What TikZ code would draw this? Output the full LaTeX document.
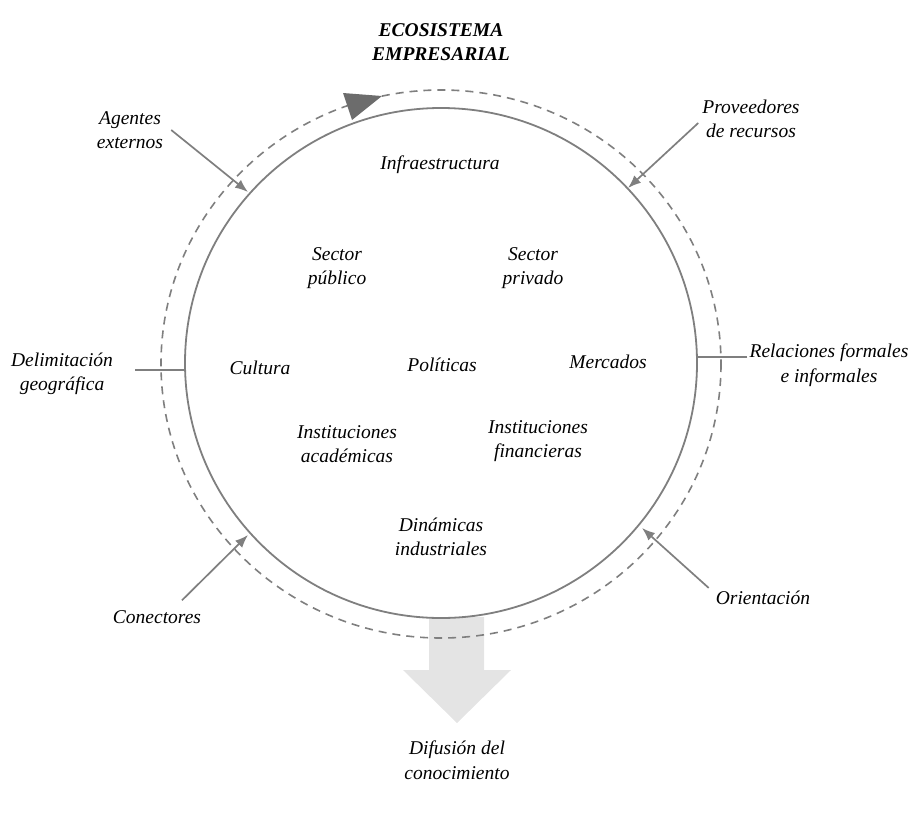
\documentclass[tikz,border=0pt]{standalone}
\usepackage{fontspec}
\setmainfont{Liberation Serif}
\usetikzlibrary{calc,arrows.meta}
\definecolor{ringgray}{HTML}{7F7F7F}
\definecolor{flowgray}{HTML}{E4E4E4}
\tikzset{lbl/.style={font=\fontsize{19.5}{24.5}\selectfont\itshape, align=center, inner sep=2pt}}
\tikzset{conn/.style={-{Latex[length=13pt,width=10pt]}, draw=ringgray, fill=ringgray, line width=1.7pt}}
\begin{document}
\begin{tikzpicture}[>=latex, x=1pt, y=-1pt]
		\useasboundingbox (0,0) rectangle (912,830);
		% flujo hacia abajo
		\fill [flowgray] (429,617) -- (484,617) -- (484,670) -- (511,670) -- (457,723) -- (403,670) -- (429,670) -- cycle;
		% anillos
		\coordinate (c) at (441,363);
		\draw [ringgray, line width=1.8pt] (c) ellipse [x radius=256, y radius=255];
		\draw [ringgray, line width=1.6pt, dash pattern=on 8pt off 6pt] (441,364) ellipse [x radius=280, y radius=274];
		\fill [ringgray!85!black] (343,93) -- (382,96) -- (352,120) -- cycle;
		% textos
		\node [lbl, font=\fontsize{19.5}{24.5}\selectfont\bfseries\itshape] (titulo) at (441,42) {ECOSISTEMA\\EMPRESARIAL};
		\node [lbl] (agentes) at (130,130) {Agentes\\externos};
		\node [lbl] (proveedores) at (751,119) {Proveedores\\de recursos};
		\node [lbl] (infra) at (440,165) {Infraestructura};
		\node [lbl] (spublico) at (337,268) {Sector\\público};
		\node [lbl] (sprivado) at (533,268) {Sector\\privado};
		\node [lbl] (cultura) at (260,368) {Cultura};
		\node [lbl] (politicas) at (442,365) {Políticas};
		\node [lbl] (mercados) at (608,362) {Mercados};
		\node [lbl] (iacad) at (347,444) {Instituciones\\académicas};
		\node [lbl] (ifin) at (538,441) {Instituciones\\financieras};
		\node [lbl] (dinamicas) at (441,537) {Dinámicas\\industriales};
		\node [lbl] (delim) at (62,374) {Delimitación\\geográfica};
		\node [lbl] (relaciones) at (829,365) {Relaciones formales\\e informales};
		\node [lbl] (conectores) at (157,617) {Conectores};
		\node [lbl] (orientacion) at (763,598) {Orientación};
		\node [lbl] (difusion) at (457,760) {Difusión del\\conocimiento};
		% puntos sobre el anillo
		\coordinate (pA) at (248,192);
		\coordinate (pP) at (628,188);
		\coordinate (pD) at (185,370);
		\coordinate (pR) at (698,357);
		\coordinate (pC) at (248,535);
		\coordinate (pO) at (642,528);
		% conectores
		\draw [conn] ($(agentes.east)+(6,0)$) -- (pA);
		\draw [conn] ($(proveedores.west)+(-2,4)$) -- (pP);
		\draw [ringgray, line width=1.7pt] ($(delim.east)+(20,-4)$) -- (pD);
		\draw [ringgray, line width=1.7pt] ($(relaciones.west)+(0,-8)$) -- (pR);
		\draw [conn] ($(conectores.north)+(25,-8)$) -- (pC);
		\draw [conn] ($(orientacion.north west)+(-5,-1)$) -- (pO);
	\end{tikzpicture}
\end{document}
